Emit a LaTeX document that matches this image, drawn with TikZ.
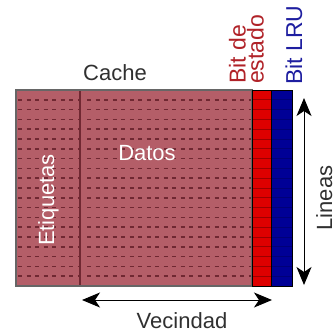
\documentclass[tikz,border=0pt]{standalone}
\usepackage{fontspec}
\setmainfont{Liberation Sans}
\usetikzlibrary{arrows.meta, positioning, calc}

\definecolor{cachepink}{RGB}{180,94,104}
\definecolor{rowdark}{RGB}{112,40,50}
\definecolor{bitred}{RGB}{222,0,0}
\definecolor{lrublue}{RGB}{0,0,150}
\definecolor{textgray}{RGB}{48,48,48}
\definecolor{statered}{RGB}{176,34,40}
\definecolor{lrutext}{RGB}{30,30,160}

\begin{document}
\begin{tikzpicture}[
  x=1pt, y=-1pt,
  >={Stealth[length=18pt, width=15pt, inset=5pt]},
  font=\fontsize{22}{24}\selectfont,
  lbl/.style={text=textgray, inner sep=0pt, anchor=base},
  vlbl/.style={lbl, rotate=90},
  rowdash/.style={rowdark, line width=1.5pt, dash pattern=on 4pt off 4.5pt},
  rowline/.style={line width=0.8pt},
  dim/.style={<->, line width=1pt, black}
]
\useasboundingbox (0,0) rectangle (336,335);

% CACHE BLOCK
\fill[cachepink] (16,90) rectangle (252,286);
\foreach \i in {1,...,19} {
  \draw[rowdash] (18,90+\i*9.8) -- (80,90+\i*9.8);
  \draw[rowdash] (87,90+\i*9.8) -- (252,90+\i*9.8);
}
\draw[rowdark, line width=1.3pt] (80,90) -- (80,286);
\draw[black!60, line width=1.4pt] (16,90) rectangle (252,286);

% STATE AND LRU BITS
\fill[bitred] (252,90) rectangle (271,286);
\fill[lrublue] (271,90) rectangle (292,286);
\foreach \i in {1,...,19} {
  \draw[rowline, bitred!70!black] (252,90+\i*9.8) -- (271,90+\i*9.8);
  \draw[rowline, lrublue!80!black] (271,90+\i*9.8) -- (292,90+\i*9.8);
}
\draw[black, line width=1pt] (252,90) rectangle (271,286);
\draw[black, line width=1pt] (271,90) rectangle (292,286);

% LABELS
\node[lbl] (cache) at (115,80) {Cache};
\node[lbl, text=white] (datos) at (147,160) {Datos};
\node[vlbl, text=white] (etiq) at (54,200) {Etiquetas};
\node[vlbl, text=lrutext, font=\fontsize{23}{24}\selectfont] (lru) at (302,45) {Bit LRU};
\node[inner sep=0pt, rotate=90, anchor=south west, align=left, text=statered,
      font=\fontsize{23}{16}\selectfont] (estado) at (264,84) {Bit de\\estado};

% DIMENSIONS
\coordinate (lintop) at (304,98);
\coordinate (linbot) at (304,285);
\coordinate (vecl) at (82,300);
\coordinate (vecr) at (272,300);
\draw[dim] (lintop) -- (linbot);
\draw[dim] (vecl) -- (vecr);
\node[vlbl] (lineas) at (332,198) {Lineas};
\node[lbl] (vecindad) at (182,328) {Vecindad};

\end{tikzpicture}
\end{document}
